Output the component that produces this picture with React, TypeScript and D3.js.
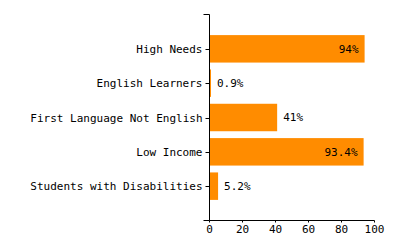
import React from "react";
import * as d3 from "d3";

const categories = [
  "High Needs",
  "English Learners",
  "First Language Not English",
  "Low Income",
  "Students with Disabilities",
];
const values = [94, 0.9, 41, 93.4, 5.2];
const valueLabels = ["94%", "0.9%", "41%", "93.4%", "5.2%"];
const xTicks = [0, 20, 40, 60, 80, 100];

const W = 400;
const H = 250;
const left = 209.5;
const right = 374.5;
const top = 14.5;
const bottom = 220.5;
const FONT = "'DejaVu Sans Mono', monospace";
const BAR = "#FF8C00";

export default function App() {
  const x = d3.scaleLinear().domain([0, 100]).range([left, right]);
  const y = d3
    .scaleBand<string>()
    .domain(categories)
    .range([top, bottom])
    .paddingInner(0.2)
    .paddingOuter(0.6);
  const bw = y.bandwidth();
  return (
    <svg
      width={W}
      height={H}
      style={{ position: "absolute", left: 0, top: 0, background: "#fff" }}
      fontFamily={FONT}
      fontSize={11}
    >
      {categories.map((c, i) => {
        const y0 = y(c)!;
        const xe = x(values[i]);
        const inside = values[i] > 80;
        return (
          <g key={c}>
            <rect x={left} y={y0} width={xe - left} height={bw} fill={BAR} />
            <text
              x={inside ? xe - 6 : xe + 6}
              y={y0 + bw / 2}
              dy="0.35em"
              textAnchor={inside ? "end" : "start"}
              fill="#000"
            >
              {valueLabels[i]}
            </text>
          </g>
        );
      })}
      {/* y axis */}
      <path
        d={`M${left - 6},${top}H${left}V${bottom}H${left - 6}`}
        fill="none"
        stroke="#000"
      />
      {categories.map((c) => {
        const cy = Math.round(y(c)! + bw / 2) + 0.5;
        return (
          <g key={"t" + c}>
            <line x1={left - 4} x2={left} y1={cy} y2={cy} stroke="#000" />
            <text x={left - 7} y={cy} dy="0.32em" textAnchor="end" fill="#000">
              {c}
            </text>
          </g>
        );
      })}
      {/* x axis */}
      <path d={`M${left},${bottom}H${right}`} fill="none" stroke="#000" />
      {xTicks.map((t) => (
        <g key={"x" + t}>
          <line x1={x(t)} x2={x(t)} y1={bottom} y2={bottom + 2} stroke="#000" />
          <text x={x(t)} y={bottom + 5} dy="0.71em" textAnchor="middle" fill="#000">
            {t}
          </text>
        </g>
      ))}
    </svg>
  );
}
